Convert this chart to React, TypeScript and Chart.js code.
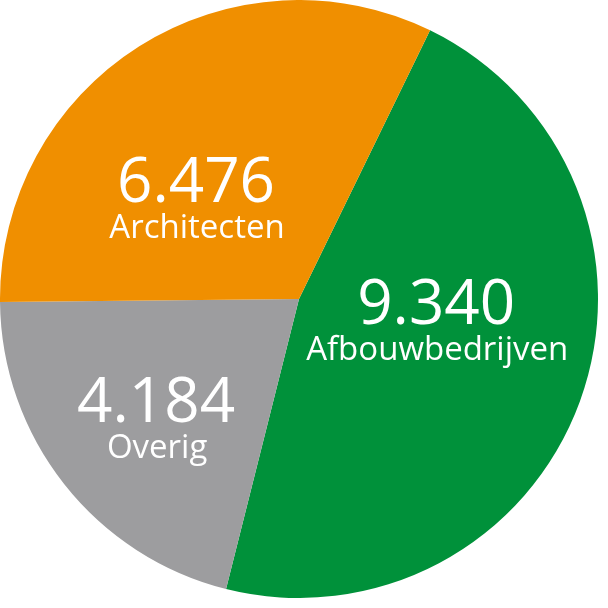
import React, { useEffect, useRef } from "react";
import { Chart, registerables } from "chart.js";

Chart.register(...registerables);

const categories = ["Afbouwbedrijven", "Overig", "Architecten"];
const values = [9340, 4184, 6476];
const valueLabels = ["9.340", "4.184", "6.476"];
const colors = ["#00913a", "#9d9d9f", "#f08f00"];
// label placement: angle shift from slice middle (deg) and fraction of radius
const labelAngleShift = [-3, -6.2, -19.9];
const labelRadiusFrac = [0.48, 0.669, 0.436];

const labelPlugin = {
  id: "sliceLabels",
  afterDatasetsDraw(chart: any) {
    const ctx = chart.ctx;
    const meta = chart.getDatasetMeta(0);
    meta.data.forEach((arc: any, i: number) => {
      const p = arc.getProps(["x", "y", "startAngle", "endAngle", "outerRadius"], true);
      const mid = (p.startAngle + p.endAngle) / 2 + (labelAngleShift[i] * Math.PI) / 180;
      const r = p.outerRadius * labelRadiusFrac[i];
      const cx = p.x + Math.cos(mid) * r;
      const cy = p.y + Math.sin(mid) * r;
      ctx.save();
      ctx.fillStyle = "#ffffff";
      ctx.textAlign = "center";
      ctx.textBaseline = "alphabetic";
      ctx.font = '400 62px "Open Sans"';
      ctx.fillText(valueLabels[i], cx, cy - 17);
      ctx.font = '400 33px "Open Sans"';
      ctx.fillText(categories[i], cx + 1, cy + 19);
      ctx.restore();
    });
  },
};

export default function App() {
  const ref = useRef<HTMLCanvasElement | null>(null);
  useEffect(() => {
    if (!ref.current) return;
    const chart = new Chart(ref.current, {
      type: "pie",
      data: {
        labels: categories,
        datasets: [
          {
            data: values,
            backgroundColor: colors,
            borderWidth: 0,
          },
        ],
      },
      options: {
        animation: false,
        responsive: false,
        rotation: 26,
        layout: { padding: 0 },
        plugins: {
          legend: { display: false },
          tooltip: { enabled: false },
        },
      },
      plugins: [labelPlugin],
    });
    return () => chart.destroy();
  }, []);
  return (
    <div style={{ position: "absolute", left: 0, top: 0, width: 608, height: 608, background: "#fff" }}>
      <canvas ref={ref} width={598} height={598} style={{ display: "block" }} />
    </div>
  );
}
